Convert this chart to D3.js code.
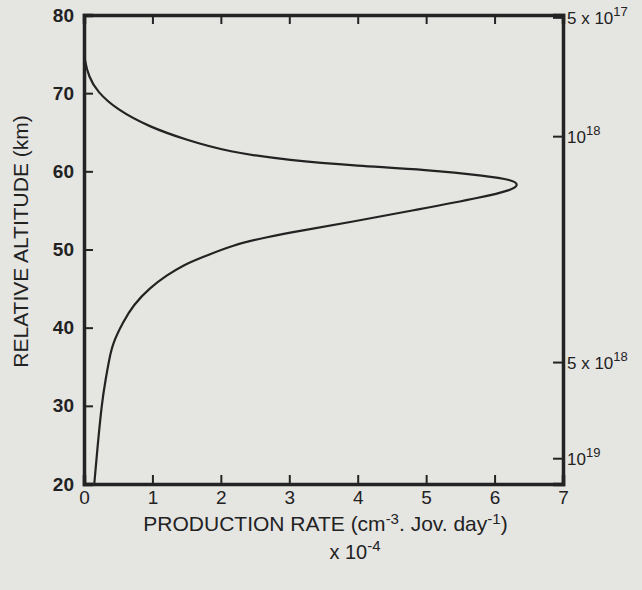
<!DOCTYPE html>
<html>
<head>
    <meta charset="UTF-8" />
    <title>Production rate vs altitude</title>
    <script src="https://d3js.org/d3.v7.min.js"></script>
    <style>
    body { margin: 0; background: #e5e5e2; }
    svg text { font-family: "Liberation Sans", Arial, sans-serif; fill: #222; }
    </style>
</head>
<body>
<script type="text/javascript">

// production rate (x 1e-4 cm-3 Jov.day-1) against relative altitude (km), bottom to top
var altitude = [20, 24.0, 30.4, 33.6, 36.0, 38.0, 40.7, 42.9, 45.1, 46.7, 48.0, 48.9, 50.6, 51.6, 52.4, 53.5, 55.1, 56.7, 57.6, 58.3, 58.9, 59.4, 60.2, 60.7, 61.4, 62.5, 64.0, 65.7, 67.9, 70.2, 72.1, 74.2, 75.5];
var rate     = [0.15, 0.19, 0.26, 0.32, 0.37, 0.42, 0.57, 0.72, 0.96, 1.21, 1.45, 1.70, 2.18, 2.68, 3.16, 3.89, 4.87, 5.83, 6.25, 6.36, 6.25, 5.9, 5.0, 4.0, 3.0, 2.1, 1.5, 0.95, 0.48, 0.19, 0.07, 0.01, 0];

var xTicks = [0, 1, 2, 3, 4, 5, 6, 7];
var yTicks = [20, 30, 40, 50, 60, 70, 80];

// number density marks on the right hand axis, placed at the altitude they sit at
var densityLabels = ["5 x 10", "10", "5 x 10", "10"];
var densityExp    = ["17", "18", "18", "19"];
var densityAlt    = [79.7, 64.5, 35.6, 23.3];

var width = 642, height = 590;
var mLeft = 84, mRight = 563, mTop = 15, mBottom = 484;

var svg = d3.select("body").append("svg")
    .attr("width", width)
    .attr("height", height);

var x = d3.scaleLinear().domain([0, 7]).range([mLeft, mRight]);
var y = d3.scaleLinear().domain([20, 80]).range([mBottom, mTop]);

var ink = "#232323";

// bottom axis, ticks pointing inwards
var xAxis = svg.append("g")
    .attr("transform", "translate(0," + mBottom + ")")
    .call(d3.axisBottom(x).tickValues(xTicks).tickSize(-9).tickPadding(7).tickFormat(d3.format("d")));
xAxis.selectAll("text").attr("font-size", 19);

// top axis, ticks only
svg.append("g")
    .attr("transform", "translate(0," + mTop + ")")
    .call(d3.axisTop(x).tickValues(xTicks.slice(1, -1)).tickSize(-9).tickFormat(""));

// left axis
var yAxis = svg.append("g")
    .attr("transform", "translate(" + mLeft + ",0)")
    .call(d3.axisLeft(y).tickValues(yTicks).tickSize(-9).tickPadding(10).tickFormat(d3.format("d")));
yAxis.selectAll("text").attr("font-size", 19).attr("font-weight", "bold");

// right axis with number densities
svg.append("g")
    .attr("transform", "translate(" + mRight + ",0)")
    .call(d3.axisRight(y).tickValues(densityAlt).tickSize(-10).tickFormat(""));

svg.selectAll(".domain").attr("stroke", ink).attr("stroke-width", 3.5);
svg.selectAll(".tick line").attr("stroke", ink).attr("stroke-width", 2);
svg.selectAll(".tick text").attr("fill", ink);

var dl = svg.append("g").selectAll("text")
    .data(densityAlt)
    .enter().append("text")
    .attr("x", mRight + 4)
    .attr("y", function(d) { return y(d) + 7; })
    .attr("font-size", 17);
dl.append("tspan").text(function(d, i) { return densityLabels[i]; });
dl.append("tspan").attr("dy", -8).attr("font-size", 13).text(function(d, i) { return densityExp[i]; });

// the profile
var pts = altitude.map(function(a, i) { return [rate[i], a]; });
svg.append("path")
    .datum(pts)
    .attr("fill", "none")
    .attr("stroke", ink)
    .attr("stroke-width", 2.2)
    .attr("d", d3.line()
        .x(function(d) { return x(d[0]); })
        .y(function(d) { return y(d[1]); })
        .curve(d3.curveBasis));

// axis titles
svg.append("text")
    .attr("transform", "translate(28," + ((mTop + mBottom) / 2 - 8) + ") rotate(-90)")
    .attr("text-anchor", "middle")
    .attr("font-size", 21)
    .text("RELATIVE ALTITUDE (km)");

var xt = svg.append("text")
    .attr("x", (mLeft + mRight) / 2 + 2)
    .attr("y", 531)
    .attr("text-anchor", "middle")
    .attr("font-size", 21);
xt.append("tspan").text("PRODUCTION RATE (cm");
xt.append("tspan").attr("dy", -7).attr("font-size", 15).text("-3");
xt.append("tspan").attr("dy", 7).text(". Jov. day");
xt.append("tspan").attr("dy", -7).attr("font-size", 15).text("-1");
xt.append("tspan").attr("dy", 7).text(")");

var sc = svg.append("text")
    .attr("x", 355)
    .attr("y", 559)
    .attr("text-anchor", "middle")
    .attr("font-size", 20);
sc.append("tspan").text("x 10");
sc.append("tspan").attr("dy", -8).attr("font-size", 15).text("-4");

</script>
</body>
</html>
